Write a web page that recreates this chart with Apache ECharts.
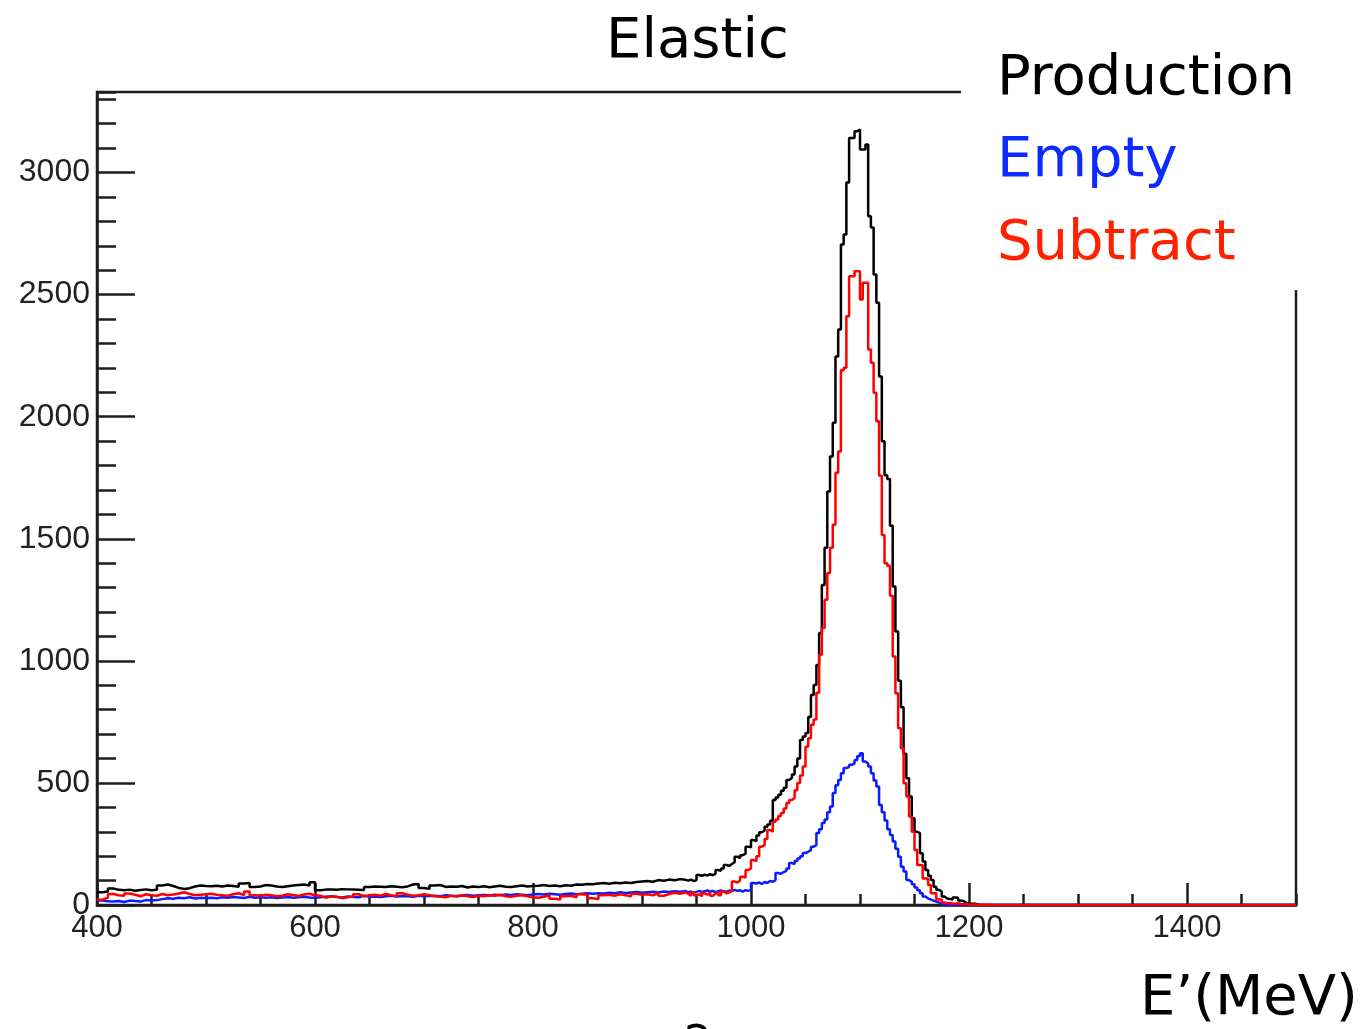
<!DOCTYPE html>
<html><head><meta charset="utf-8">
<script src="https://cdn.jsdelivr.net/npm/echarts@6/dist/echarts.min.js"></script>
<style>html,body{margin:0;padding:0;background:#fff}#c{width:1367px;height:1029px}</style>
</head><body><div id="c"></div>
<script>
// ---------- data ----------
const xMin = 400, xMax = 1500;
const yMin = 0, yMax = 3330;
const xTickLabels = [400, 600, 800, 1000, 1200, 1400];
const yTickLabels = [0, 500, 1000, 1500, 2000, 2500, 3000];
// histogram binning: 5 MeV bins from 400 to 940, 2.5 MeV bins from 940 to 1220, empty to 1500
const lowStart = 400, lowWidth = 5;
const peakStart = 940, peakWidth = 2.5;
const tailEnd = 1500;

const productionLow = [
  52, 55, 68, 62, 60, 63, 58, 61, 64, 60,
  62, 80, 84, 78, 70, 66, 69, 76, 80, 78,
  77, 79, 76, 80, 78, 75, 88, 90, 74, 76,
  82, 80, 76, 74, 77, 80, 82, 84, 80, 93,
  60, 63, 64, 62, 65, 64, 63, 62, 61, 74,
  76, 75, 74, 77, 75, 73, 76, 84, 86, 70,
  66, 80, 82, 74, 76, 75, 78, 72, 76, 74,
  77, 73, 76, 79, 75, 74, 77, 80, 76, 78,
  79, 82, 78, 80, 77, 81, 79, 84, 83, 86,
  85, 88, 90, 87, 91, 89, 92, 90, 94, 96,
  98, 95, 102, 99, 104, 101, 106, 103
];
const productionPeak = [
  100, 104, 98, 102, 123, 120, 124, 121,
  126, 122, 128, 143, 140, 150, 164, 160,
  168, 175, 198, 192, 204, 210, 239, 236,
  266, 262, 285, 298, 305, 320, 330, 345,
  430, 440, 452, 468, 480, 512, 520, 535,
  567, 600, 676, 690, 705, 770, 860, 901,
  983, 1114, 1311, 1463, 1694, 1837, 1975, 2247,
  2357, 2705, 2746, 2959, 3142, 3142, 3169, 3176,
  3094, 3094, 3115, 2821, 2775, 2582, 2467, 2165,
  1899, 1760, 1745, 1553, 1305, 1120, 919, 810,
  619, 519, 444, 355, 300, 294, 212, 178,
  143, 120, 102, 75, 62, 55, 35, 27,
  25, 22, 31, 30, 18, 16, 10, 6,
  4, 6, 2, 0, 0, 0, 0, 0
];
const emptyLow = [
  18, 15, 14, 16, 12, 18, 16, 14, 20, 18,
  20, 24, 28, 26, 30, 28, 32, 27, 30, 29,
  30, 28, 32, 30, 33, 31, 29, 34, 30, 32,
  30, 32, 29, 31, 33, 30, 32, 34, 31, 30,
  32, 34, 36, 33, 31, 35, 33, 32, 38, 34,
  35, 33, 36, 38, 35, 37, 36, 34, 38, 36,
  37, 38, 36, 40, 38, 37, 39, 41, 38, 40,
  41, 39, 42, 40, 43, 41, 44, 42, 40, 43,
  45, 43, 46, 44, 42, 45, 47, 44, 46, 48,
  46, 48, 47, 50, 48, 52, 49, 51, 53, 50,
  52, 54, 51, 55, 53, 56, 54, 57
];
const emptyPeak = [
  52, 55, 50, 54, 58, 53, 56, 60,
  55, 58, 52, 57, 60, 56, 54, 59,
  57, 62, 58, 60, 55, 61, 58, 62,
  90, 88, 92, 86, 94, 90, 98, 95,
  102, 131, 128, 135, 140, 150, 172, 168,
  180, 190, 200, 213, 218, 225, 239, 245,
  295, 310, 336, 350, 380, 403, 459, 490,
  512, 540, 561, 565, 574, 580, 594, 610,
  622, 588, 580, 567, 540, 510, 485, 410,
  380, 346, 310, 287, 260, 230, 198, 157,
  137, 102, 95, 85, 72, 60, 48, 35,
  27, 22, 18, 14, 10, 6, 0, 3,
  0, 2, 0, 0, 1, 0, 0, 0,
  0, 0, 0, 0, 0, 0, 0, 0
];
const subtractLow = [
  22, 30, 45, 40, 38, 47, 42, 36, 44, 40,
  38, 45, 40, 43, 47, 52, 45, 40, 42, 44,
  46, 42, 40, 38, 44, 48, 41, 55, 40, 38,
  42, 40, 36, 38, 44, 41, 37, 43, 46, 40,
  38, 30, 36, 34, 28, 32, 35, 44, 36, 40,
  42, 38, 45, 40, 36, 48, 42, 38, 40, 44,
  40, 36, 34, 32, 38, 35, 40, 36, 33, 38,
  36, 40, 38, 42, 36, 34, 38, 40, 36, 32,
  30, 34, 40, 26, 22, 36, 38, 32, 44, 42,
  28, 24, 40, 42, 38, 44, 40, 36, 46, 42,
  44, 40, 48, 38, 45, 50, 46, 52
];
const subtractPeak = [
  45, 38, 52, 40, 44, 36, 48, 42,
  50, 38, 46, 53, 40, 55, 48, 52,
  58, 96, 92, 100, 116, 112, 143, 150,
  184, 180, 200, 239, 245, 270, 307, 300,
  341, 350, 365, 377, 395, 418, 430, 438,
  470, 500, 530, 567, 648, 683, 738, 760,
  869, 1025, 1135, 1250, 1360, 1463, 1557, 1770,
  1858, 2190, 2201, 2411, 2575, 2575, 2596, 2596,
  2480, 2549, 2549, 2275, 2221, 2098, 1981, 1758,
  1516, 1400, 1390, 1267, 1018, 867, 724, 642,
  499, 444, 362, 300, 225, 164, 164, 109,
  109, 82, 48, 48, 23, 23, 10, 7,
  8, 6, 5, 7, 4, 3, 5, 2,
  0, 3, 0, 2, 0, 1, 0, 0
];

// ---------- build step histograms ----------
function histPoints(low, peak) {
  const pts = [];
  low.forEach((v, i) => pts.push([lowStart + i * lowWidth, v]));
  peak.forEach((v, i) => pts.push([peakStart + i * peakWidth, v]));
  pts.push([peakStart + peak.length * peakWidth, 0]);
  pts.push([tailEnd, 0]);
  return pts;
}

const axisColor = '#1e1e1e';
const axisW = 2.5;
const labelFont = { fontFamily: 'Liberation Sans', color: '#222' };

const chart = echarts.init(document.getElementById('c'), null, { renderer: 'canvas' });

function histSeries(name, color, low, peak) {
  return {
    name, type: 'line', step: 'end', data: histPoints(low, peak),
    showSymbol: false, symbol: 'none', clip: false, animation: false,
    lineStyle: { color, width: 2.5 }, xAxisIndex: 0, yAxisIndex: 0
  };
}

chart.setOption({
  animation: false,
  backgroundColor: '#fff',
  grid: { left: 97, right: 71, top: 92, bottom: 124, show: true, borderColor: axisColor, borderWidth: axisW, backgroundColor: 'transparent' },
  xAxis: [
    {
      type: 'value', min: xMin, max: xMax, interval: 200, position: 'bottom',
      axisLine: { show: true, lineStyle: { color: axisColor, width: axisW } },
      axisTick: { show: true, inside: true, length: 22, lineStyle: { color: axisColor, width: axisW } },
      axisLabel: {
        show: true, showMaxLabel: false, fontSize: 31, margin: 8, ...labelFont,
        formatter: v => (xTickLabels.includes(v) ? String(v) : '')
      },
      splitLine: { show: false }
    },
    {
      type: 'value', min: xMin, max: xMax, interval: 50, position: 'bottom',
      axisLine: { show: false },
      axisTick: { show: true, inside: true, length: 11, lineStyle: { color: axisColor, width: axisW } },
      axisLabel: { show: false }, splitLine: { show: false }
    }
  ],
  yAxis: [
    {
      type: 'value', min: yMin, max: yMax, interval: 500, position: 'left',
      axisLine: { show: true, lineStyle: { color: axisColor, width: axisW } },
      axisTick: { show: true, inside: true, length: 38, lineStyle: { color: axisColor, width: axisW } },
      axisLabel: {
        show: true, showMaxLabel: false, fontSize: 32, margin: 7, ...labelFont,
        formatter: v => (yTickLabels.includes(v) ? String(v) : '')
      },
      splitLine: { show: false }
    },
    {
      type: 'value', min: yMin, max: yMax, interval: 100, position: 'left', offset: 0,
      axisLine: { show: false },
      axisTick: { show: true, inside: true, length: 19, lineStyle: { color: axisColor, width: axisW } },
      axisLabel: { show: false }, splitLine: { show: false }
    }
  ],
  series: [
    histSeries('Production', '#000000', productionLow, productionPeak),
    histSeries('Empty', '#0a1cff', emptyLow, emptyPeak),
    histSeries('Subtract', '#ff0000', subtractLow, subtractPeak)
  ],
  graphic: [
    { type: 'rect', z: 100, shape: { x: 961, y: 0, width: 406, height: 290 }, style: { fill: '#fff' } },
    { type: 'text', z: 101, x: 606, y: 42, style: { text: 'Elastic', font: '56px "DejaVu Sans"', fill: '#000', align: 'left', verticalAlign: 'middle' } },
    { type: 'text', z: 101, x: 997, y: 79, style: { text: 'Production', font: '56px "DejaVu Sans"', fill: '#000', align: 'left', verticalAlign: 'middle' } },
    { type: 'text', z: 101, x: 997, y: 161, style: { text: 'Empty', font: '56px "DejaVu Sans"', fill: '#0d2bff', align: 'left', verticalAlign: 'middle' } },
    { type: 'text', z: 101, x: 997, y: 244, style: { text: 'Subtract', font: '56px "DejaVu Sans"', fill: '#ff2200', align: 'left', verticalAlign: 'middle' } },
    { type: 'text', z: 101, x: 1140, y: 999, style: { text: 'E’(MeV)', font: '56px "DejaVu Sans"', fill: '#000', align: 'left', verticalAlign: 'middle' } },
    { type: 'text', z: 101, x: 684, y: 1046, style: { text: '2', font: '44px "DejaVu Sans"', fill: '#000', align: 'left', verticalAlign: 'middle' } }
  ]
});
</script>
</body></html>
